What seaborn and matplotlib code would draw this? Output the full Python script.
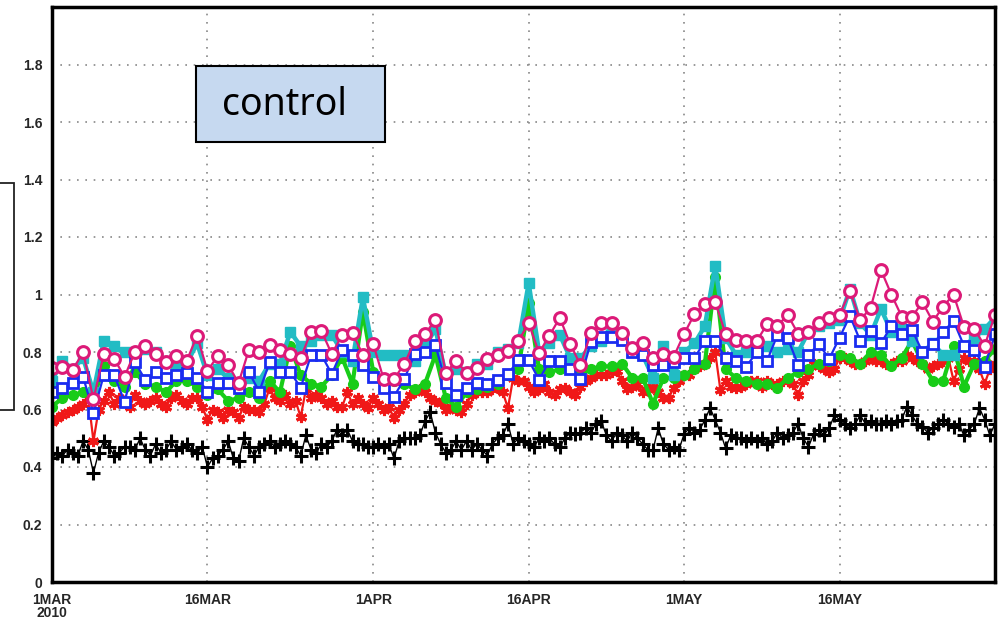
import numpy as np
import pandas as pd
import matplotlib
matplotlib.use("Agg")
import matplotlib.pyplot as plt
import matplotlib.patches as mpatches
import seaborn as sns

# ---------------- data ----------------
start_date = "2010-03-01"
end_date = "2010-05-31"

pink_vals = [0.743,0.749,0.737,0.80,0.636,0.793,0.776,0.714,0.80,0.822,
             0.793,0.765,0.787,0.769,0.857,0.734,0.787,0.755,0.692,0.807,
             0.80,0.824,0.807,0.793,0.779,0.871,0.873,0.793,0.859,0.866,
             0.79,0.828,0.706,0.706,0.758,0.838,0.863,0.911,0.727,0.769,
             0.727,0.744,0.776,0.79,0.803,0.838,0.90,0.797,0.857,0.919,
             0.828,0.755,0.866,0.90,0.90,0.866,0.815,0.831,0.779,0.793,
             0.784,0.863,0.932,0.967,0.974,0.863,0.842,0.838,0.838,0.896,
             0.891,0.929,0.863,0.87,0.90,0.919,0.929,1.012,0.911,0.954,
             1.085,1.0,0.923,0.923,0.973,0.906,0.958,1.0,0.888,0.88,
             0.822,0.929]

blue_vals = [0.66,0.676,0.692,0.714,0.588,0.72,0.72,0.627,0.765,0.703,
             0.73,0.711,0.72,0.727,0.711,0.662,0.692,0.692,0.675,0.73,
             0.662,0.765,0.73,0.73,0.676,0.79,0.79,0.723,0.807,0.79,
             0.755,0.714,0.676,0.645,0.706,0.793,0.80,0.824,0.692,0.65,
             0.676,0.693,0.69,0.703,0.722,0.772,0.772,0.703,0.769,0.769,
             0.741,0.706,0.835,0.853,0.853,0.842,0.80,0.79,0.755,0.755,
             0.766,0.779,0.779,0.838,0.838,0.78,0.769,0.749,0.80,0.769,
             0.859,0.848,0.755,0.79,0.828,0.776,0.85,0.926,0.838,0.873,
             0.83,0.891,0.861,0.877,0.80,0.828,0.87,0.908,0.822,0.807,
             0.749,0.861]

cyan_vals = [0.70,0.77,0.74,0.78,0.66,0.84,0.82,0.80,0.80,0.81,
             0.80,0.77,0.75,0.76,0.83,0.72,0.74,0.71,0.69,0.71,
             0.70,0.76,0.76,0.87,0.82,0.84,0.86,0.86,0.80,0.77,
             0.99,0.80,0.79,0.79,0.79,0.77,0.82,0.88,0.72,0.74,
             0.73,0.76,0.76,0.80,0.81,0.83,1.04,0.80,0.83,0.86,
             0.78,0.78,0.82,0.84,0.89,0.85,0.80,0.79,0.71,0.82,
             0.72,0.80,0.83,0.89,1.10,0.85,0.79,0.80,0.84,0.82,
             0.80,0.81,0.80,0.87,0.89,0.90,0.91,1.02,0.90,0.86,
             0.95,0.87,0.88,0.84,0.80,0.83,0.79,0.79,0.82,0.85,
             0.88,0.92]

green_vals = [0.61,0.64,0.65,0.66,0.64,0.75,0.70,0.68,0.73,0.69,
              0.68,0.66,0.70,0.70,0.68,0.65,0.67,0.63,0.64,0.66,
              0.64,0.70,0.66,0.82,0.72,0.69,0.68,0.72,0.78,0.69,
              0.94,0.73,0.70,0.70,0.69,0.67,0.69,0.79,0.64,0.61,
              0.66,0.67,0.68,0.69,0.72,0.74,0.97,0.74,0.73,0.74,
              0.75,0.72,0.74,0.75,0.75,0.76,0.71,0.71,0.62,0.71,
              0.71,0.72,0.74,0.76,1.06,0.74,0.71,0.70,0.69,0.69,
              0.675,0.71,0.73,0.74,0.76,0.77,0.79,0.78,0.76,0.80,
              0.79,0.75,0.78,0.84,0.76,0.70,0.70,0.82,0.68,0.76,
              0.77,0.81]

red_vals = [0.556,0.57,0.58,0.59,0.60,0.61,0.62,0.64,0.49,0.60,
            0.63,0.66,0.62,0.64,0.63,0.61,0.65,0.63,0.62,0.63,
            0.64,0.62,0.61,0.64,0.65,0.63,0.62,0.64,0.64,0.61,
            0.563,0.60,0.59,0.57,0.60,0.59,0.57,0.61,0.60,0.60,
            0.59,0.62,0.675,0.64,0.63,0.65,0.62,0.63,0.574,0.67,
            0.64,0.65,0.64,0.62,0.63,0.61,0.61,0.66,0.62,0.64,
            0.62,0.605,0.64,0.62,0.60,0.61,0.57,0.60,0.62,0.65,
            0.66,0.67,0.66,0.64,0.63,0.623,0.60,0.61,0.60,0.59,
            0.62,0.65,0.66,0.66,0.66,0.67,0.675,0.66,0.605,0.71,
            0.70,0.70,0.68,0.66,0.67,0.69,0.66,0.65,0.67,0.675,
            0.66,0.65,0.68,0.70,0.71,0.72,0.72,0.72,0.73,0.735,
            0.70,0.67,0.68,0.69,0.66,0.67,0.68,0.66,0.64,0.64,
            0.675,0.70,0.72,0.72,0.74,0.75,0.76,0.78,0.80,0.668,
            0.70,0.68,0.675,0.68,0.69,0.70,0.70,0.68,0.70,0.69,
            0.69,0.70,0.70,0.69,0.65,0.70,0.72,0.76,0.75,0.74,
            0.73,0.74,0.78,0.78,0.77,0.76,0.76,0.77,0.78,0.77,
            0.77,0.76,0.76,0.77,0.77,0.79,0.78,0.77,0.76,0.74,
            0.75,0.76,0.77,0.78,0.70,0.74,0.78,0.77,0.77,0.74,
            0.69,0.74,0.76]

black_vals = [0.43,0.45,0.44,0.46,0.45,0.44,0.49,0.46,0.38,0.45,
              0.49,0.47,0.44,0.45,0.47,0.47,0.46,0.50,0.46,0.44,
              0.48,0.45,0.46,0.49,0.46,0.47,0.48,0.46,0.45,0.47,
              0.40,0.43,0.44,0.46,0.49,0.43,0.42,0.50,0.47,0.44,
              0.47,0.48,0.49,0.47,0.48,0.49,0.48,0.47,0.44,0.51,
              0.46,0.45,0.48,0.47,0.49,0.53,0.51,0.53,0.49,0.48,
              0.48,0.47,0.47,0.48,0.47,0.48,0.43,0.49,0.50,0.50,
              0.50,0.51,0.56,0.59,0.52,0.48,0.45,0.46,0.49,0.46,
              0.49,0.46,0.48,0.46,0.44,0.48,0.50,0.51,0.55,0.48,
              0.50,0.49,0.48,0.47,0.50,0.49,0.50,0.48,0.47,0.50,
              0.52,0.515,0.52,0.535,0.52,0.55,0.56,0.51,0.49,0.52,
              0.51,0.49,0.52,0.50,0.48,0.46,0.46,0.535,0.48,0.46,
              0.47,0.46,0.515,0.535,0.52,0.53,0.563,0.605,0.565,0.52,
              0.466,0.51,0.50,0.50,0.49,0.50,0.49,0.50,0.48,0.49,
              0.52,0.50,0.51,0.52,0.55,0.50,0.47,0.515,0.53,0.51,
              0.535,0.58,0.565,0.55,0.535,0.55,0.58,0.55,0.56,0.55,
              0.55,0.56,0.55,0.56,0.565,0.61,0.58,0.55,0.54,0.52,
              0.535,0.55,0.565,0.55,0.54,0.55,0.51,0.53,0.55,0.605,
              0.565,0.51,0.55]

yticks = [0, 0.2, 0.4, 0.6, 0.8, 1, 1.2, 1.4, 1.6, 1.8]
ytick_labels = ["0", "0.2", "0.4", "0.6", "0.8", "1", "1.2", "1.4", "1.6", "1.8"]
xtick_dates = ["2010-03-01", "2010-03-16", "2010-04-01", "2010-04-16", "2010-05-01", "2010-05-16"]
xtick_labels = ["1MAR\n2010", "16MAR", "1APR", "16APR", "1MAY", "16MAY"]
box_text = "control"

# ---------------- figure ----------------
daily = pd.date_range(start_date, end_date, freq="D")
half = pd.date_range(start_date, end_date, freq="12h")

sns.set_theme(style="white")
plt.rcParams["font.family"] = ["Liberation Sans", "DejaVu Sans"]

fig = plt.figure(figsize=(10.01, 6.24), dpi=100)
ax = fig.add_axes([52/1001, 1-582/624, (995-52)/1001, (582-7)/624])

common = dict(ax=ax, legend=False, errorbar=None, estimator=None)

sns.lineplot(x=half, y=black_vals, color="black", linewidth=1.0,
             marker="+", markersize=10, markeredgewidth=2.2,
             markeredgecolor="black", **common)
sns.lineplot(x=half, y=red_vals, color="#f01818", linewidth=1.6,
             marker=(6, 2, 0), markersize=8, markeredgewidth=2.2,
             markeredgecolor="#f01818", **common)
sns.lineplot(x=daily, y=green_vals, color="#18cc18", linewidth=3.0,
             marker="o", markersize=7, markeredgewidth=1.0,
             markeredgecolor="#18cc18", markerfacecolor="#18cc18", **common)
sns.lineplot(x=daily, y=cyan_vals, color="#22bcc4", linewidth=3.2,
             marker="s", markersize=7, markeredgewidth=1.0,
             markeredgecolor="#22bcc4", markerfacecolor="#22bcc4", **common)
sns.lineplot(x=daily, y=blue_vals, color="#1a2cf0", linewidth=1.6,
             marker="s", markersize=7.5, markeredgewidth=2.0,
             markeredgecolor="#1a2cf0", markerfacecolor="white", **common)
sns.lineplot(x=daily, y=pink_vals, color="#dc1a78", linewidth=1.6,
             marker="o", markersize=8.5, markeredgewidth=2.2,
             markeredgecolor="#dc1a78", markerfacecolor="white", **common)

ax.set_xlim(pd.Timestamp(start_date), pd.Timestamp(end_date))
ax.set_ylim(0, 2.0)
ax.set_yticks(yticks)
ax.set_yticklabels(ytick_labels, fontsize=10, fontweight="bold")
ax.set_xticks(pd.to_datetime(xtick_dates))
ax.set_xticklabels(xtick_labels, fontsize=10, fontweight="bold", linespacing=0.9,
                   ha="center")
ax.tick_params(axis="both", direction="out", length=5, width=2, color="black", pad=2)
ax.tick_params(axis="x", pad=3)
ax.set_xlabel("")
ax.set_ylabel("")

ax.grid(True, which="major", color="#888888", linestyle=(0, (1, 4)), linewidth=1.2)
for s in ax.spines.values():
    s.set_color("black")
    s.set_linewidth(2.5)

# text box "control"
fig.patches.append(mpatches.Rectangle((196/1001, 1-142/624), 189/1001, 76/624,
                                      transform=fig.transFigure, facecolor="#c6d9f0",
                                      edgecolor="black", linewidth=1.5, zorder=5))
fig.text(284/1001, 1-105/624, box_text, fontsize=27, family=["Noto Sans", "DejaVu Sans"],
         ha="center", va="center", color="black", zorder=6)

# partial box on left edge
fig.patches.append(mpatches.Rectangle((-10/1001, 1-410/624), 24/1001, 227/624,
                                      transform=fig.transFigure, facecolor="white",
                                      edgecolor="#222222", linewidth=1.3, zorder=5))

fig.savefig("out.png", dpi=100)
